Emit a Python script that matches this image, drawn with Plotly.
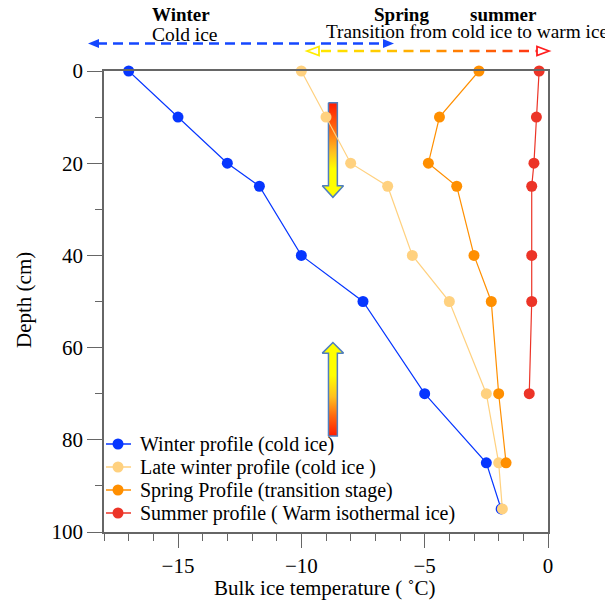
import plotly.graph_objects as go

# ---------------- data ----------------
depth_winter = [0, 10, 20, 25, 40, 50, 70, 85, 95]
temp_winter = [-17.0, -15.0, -13.0, -11.7, -10.0, -7.5, -5.0, -2.5, -1.9]

depth_late = [0, 10, 20, 25, 40, 50, 70, 85, 95]
temp_late = [-10.0, -9.0, -8.0, -6.5, -5.5, -4.0, -2.5, -2.0, -1.85]

depth_spring = [0, 10, 20, 25, 40, 50, 70, 85]
temp_spring = [-2.8, -4.4, -4.85, -3.7, -3.0, -2.3, -2.0, -1.7]

depth_summer = [0, 10, 20, 25, 40, 50, 70]
temp_summer = [-0.36, -0.47, -0.57, -0.66, -0.66, -0.66, -0.76]

series_names = ["Winter profile (cold ice)", "Late winter profile (cold ice )",
                "Spring Profile (transition stage)", "Summer profile ( Warm isothermal ice)"]
series_colors = ["#0636ff", "#ffd17f", "#ff8f00", "#ec3427"]

x_ticks = [-15, -10, -5, 0]
y_ticks = [0, 20, 40, 60, 80, 100]

FONT = "Liberation Serif, Times New Roman, serif"

# plot-area geometry on screen (pixels), used for margins and decorations
L, R, T, B = 104, 548, 71, 532
W, H = 613, 602
OFF = 8  # page body offset
def px(x):
    return (x - L) / (R - L)
def py(y):
    return (B - y) / (B - T)

fig = go.Figure()

# ---------- decorative vertical gradient arrows (under data) ----------
xc, sw, hw = -8.72, 0.18, 0.43
down_x = [xc - sw, xc + sw, xc + sw, xc + hw, xc, xc - hw, xc - sw, xc - sw]
down_y = [6.9, 6.9, 24.9, 24.9, 27.4, 24.9, 24.9, 6.9]
up_x = [xc - sw, xc + sw, xc + sw, xc + hw, xc, xc - hw, xc - sw, xc - sw]
up_y = [79.2, 79.2, 61.2, 61.2, 58.9, 61.2, 61.2, 79.2]

fig.add_trace(go.Scatter(
    x=down_x, y=down_y, mode="lines", fill="toself",
    line=dict(color="#4f7fc0", width=1.5),
    fillgradient=dict(type="vertical",
                      colorscale=[[0, "#ffff00"], [0.3, "#ffff00"], [0.48, "#ffc020"],
                                  [0.72, "#ff6a10"], [1, "#ff1a00"]]),
    showlegend=False, hoverinfo="skip"))
fig.add_trace(go.Scatter(
    x=up_x, y=up_y, mode="lines", fill="toself",
    line=dict(color="#4f7fc0", width=1.5),
    fillgradient=dict(type="vertical",
                      colorscale=[[0, "#ff1a00"], [0.22, "#ff6a10"], [0.42, "#ffc020"],
                                  [0.65, "#ffff00"], [1, "#ffff00"]]),
    showlegend=False, hoverinfo="skip"))

# ---------------- data traces ----------------
for xs, ys, name, col in [
    (temp_winter, depth_winter, series_names[0], series_colors[0]),
    (temp_late, depth_late, series_names[1], series_colors[1]),
    (temp_spring, depth_spring, series_names[2], series_colors[2]),
    (temp_summer, depth_summer, series_names[3], series_colors[3]),
]:
    fig.add_trace(go.Scatter(
        x=xs, y=ys, mode="lines+markers", name=name, showlegend=False,
        line=dict(color=col, width=1.2),
        marker=dict(color=col, size=11, line=dict(width=0)),
        cliponaxis=False))

shapes = []
annotations = []

# ---------- manual legend (bottom-left, tight rows) ----------
leg_rows = [444, 467, 490, 513]
for name, col, yr in zip(series_names, series_colors, leg_rows):
    shapes.append(dict(type="line", xref="paper", yref="paper",
                       x0=px(106), x1=px(131), y0=py(yr), y1=py(yr),
                       line=dict(color=col, width=1.5)))
    shapes.append(dict(type="circle", xref="paper", yref="paper",
                       x0=px(112.5), x1=px(123.5), y0=py(yr - 5.5), y1=py(yr + 5.5),
                       fillcolor=col, line=dict(width=0)))
    annotations.append(dict(text=name, x=px(138), y=py(yr), xanchor="left", yanchor="middle",
                            font=dict(family=FONT, size=20, color="black")))

# ---------- top blue dashed double arrow ----------
yb = 43.5
shapes.append(dict(type="line", xref="paper", yref="paper",
                   x0=px(97), x1=px(383), y0=py(yb), y1=py(yb),
                   line=dict(color="#1447ff", width=2.5, dash="10px,6px")))
for tip, base in [(88, 99), (394, 383)]:
    shapes.append(dict(type="path", xref="paper", yref="paper",
                       path=f"M {px(tip)} {py(yb)} L {px(base)} {py(yb-4.5)} L {px(base)} {py(yb+4.5)} Z",
                       fillcolor="#1447ff", line=dict(width=0)))

# ---------- lower gradient dashed double arrow ----------
yo = 51
def grad(t):
    stops = [(0.0, (255, 236, 0)), (0.3, (255, 200, 0)), (0.5, (255, 150, 0)),
             (0.8, (255, 80, 10)), (1.0, (255, 30, 30))]
    for (t0, c0), (t1, c1) in zip(stops[:-1], stops[1:]):
        if t <= t1:
            f = (t - t0) / (t1 - t0)
            return "rgb(%d,%d,%d)" % tuple(round(a + (b - a) * f) for a, b in zip(c0, c1))
    return "rgb(255,30,30)"

xs0, xs1 = 321, 537
x = xs0
while x < xs1:
    xe = min(x + 10, xs1)
    col = grad((x - 307) / (549 - 307))
    shapes.append(dict(type="line", xref="paper", yref="paper",
                       x0=px(x), x1=px(xe), y0=py(yo), y1=py(yo),
                       line=dict(color=col, width=2.5)))
    x += 16.5
for tip, base, col in [(307, 319, grad(0)), (549, 537, grad(1))]:
    shapes.append(dict(type="path", xref="paper", yref="paper",
                       path=f"M {px(tip)} {py(yo)} L {px(base)} {py(yo-4.5)} L {px(base)} {py(yo+4.5)} Z",
                       fillcolor="white", line=dict(color=col, width=1.8)))

top_texts = [
    dict(text="<b>Winter</b>", x=px(150), y=py(15), xanchor="left", yanchor="middle", size=19),
    dict(text="Cold ice", x=px(150), y=py(34), xanchor="left", yanchor="middle", size=19.5),
    dict(text="<b>Spring</b>", x=px(401), y=py(15), xanchor="center", yanchor="middle", size=19),
    dict(text="<b>summer</b>", x=px(503), y=py(15), xanchor="center", yanchor="middle", size=19),
    dict(text="Transition from cold ice to warm ice", x=px(324), y=py(32),
         xanchor="left", yanchor="middle", size=19.3),
    # axis titles
    dict(text="Bulk ice temperature ( ˚C)", x=px(325), y=py(588),
         xanchor="center", yanchor="middle", size=21),
    dict(text="Depth (cm)", x=px(24), y=py(300), xanchor="center", yanchor="middle",
         size=21, textangle=-90),
]
for a in top_texts:
    s = a.pop("size")
    a.update(font=dict(family=FONT, size=s, color="black"))
annotations += top_texts
for a in annotations:
    a.update(xref="paper", yref="paper", showarrow=False)

fig.update_layout(
    width=W, height=H,
    margin=dict(l=L - OFF, r=W - R + OFF, t=T - OFF, b=H - B + OFF, autoexpand=False),
    paper_bgcolor="white", plot_bgcolor="white",
    font=dict(family=FONT, size=21, color="black"),
    shapes=shapes, annotations=annotations,
    showlegend=False,
    xaxis=dict(range=[-18, 0], tickvals=x_ticks, ticks="outside", ticklen=14, tickwidth=1.2,
               tickcolor="#666", showline=True, linecolor="#666", linewidth=1.5, mirror=True,
               showgrid=False, zeroline=False, automargin=False,
               minor=dict(dtick=1, tick0=0, ticks="outside", ticklen=7, tickcolor="#666", tickwidth=1.2),
               tickfont=dict(size=21)),
    yaxis=dict(range=[100, 0], tickvals=y_ticks, ticks="outside", ticklen=15, tickwidth=1.2,
               tickcolor="#666", showline=True, linecolor="#666", linewidth=1.5, mirror=True,
               showgrid=False, zeroline=False, automargin=False,
               minor=dict(dtick=10, tick0=0, ticks="outside", ticklen=7, tickcolor="#666", tickwidth=1.2),
               tickfont=dict(size=21)),
)

fig.write_html("out.html")
